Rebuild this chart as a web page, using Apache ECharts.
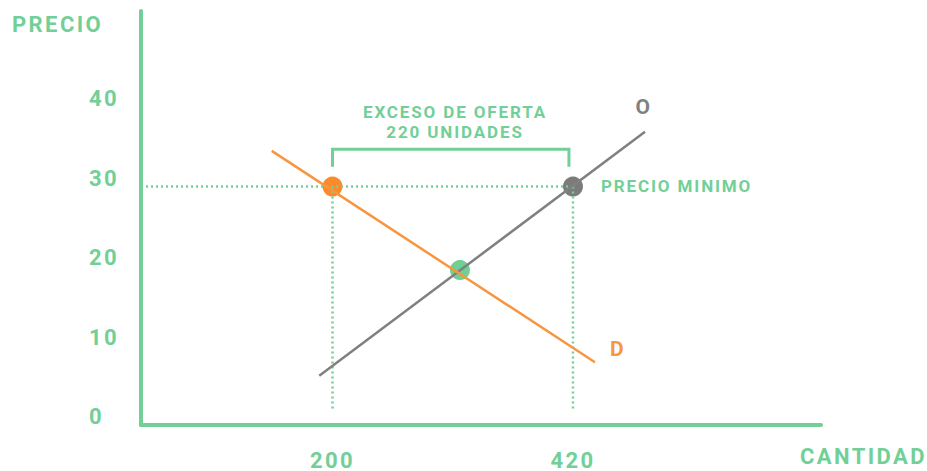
<!DOCTYPE html>
<html>
<head>
<meta charset="utf-8">
<script src="https://cdn.jsdelivr.net/npm/echarts@6/dist/echarts.min.js"></script>
<style>
  html, body { margin: 0; padding: 0; background: #fff; }
  #chart { width: 927px; height: 471px; }
  /* spaced capitals like the original artwork */
  #chart text { letter-spacing: 0.11em; }
</style>
</head>
<body>
<div id="chart"></div>
<script>
// data
const yTicks = [0, 10, 20, 30, 40]
const xTicks = [200, 420]
const supplyLine = [[187.9, 6.2], [485.9, 36.9]]   // O
const demandLine = [[144.4, 34.5], [440.1, 7.9]]   // D
const priceFloor = 30
const qtyDemanded = 200
const qtySupplied = 420
const equilibrium = [316.6, 19.5]
const dottedStartX = 29.4
const dottedEndY = 1.8
const bracketLow = 32.5
const bracketHigh = 34.7
const bracketRight = 416.3

const GREEN = '#72cf97'
const ORANGE = '#f7963f'
const GRAY = '#808080'
const FONT = 'Roboto'

const dotted = { color: GREEN, width: 2.5, type: [2, 3] }

const chart = echarts.init(document.getElementById('chart'), null, { renderer: 'svg' })

chart.setOption({
  animation: false,
  grid: {
    left: 141,
    right: 106,
    top: 11,
    bottom: 46,
    outerBoundsMode: 'none'
  },
  xAxis: {
    type: 'value',
    min: 24.8,
    max: 646.9,
    axisLine: { lineStyle: { color: GREEN, width: 4 } },
    axisTick: { show: false },
    splitLine: { show: false },
    axisLabel: {
      customValues: xTicks,
      color: GREEN,
      fontFamily: FONT,
      fontWeight: 'bold',
      fontSize: 22,
      lineHeight: 18,
      margin: 26
    }
  },
  yAxis: {
    type: 'value',
    min: 0,
    max: 52.1,
    axisLine: { show: true, lineStyle: { color: GREEN, width: 4 } },
    axisTick: { show: false },
    splitLine: { show: false },
    axisLabel: {
      customValues: yTicks,
      color: GREEN,
      fontFamily: FONT,
      fontWeight: 'bold',
      fontSize: 22,
      align: 'left',
      verticalAlign: 'bottom',
      lineHeight: 17,
      margin: 52
    }
  },
  series: [
    {
      // precio minimo
      type: 'line',
      data: [[dottedStartX, priceFloor], [qtySupplied, priceFloor]],
      showSymbol: false,
      lineStyle: dotted,
      silent: true
    },
    {
      type: 'line',
      data: [[qtyDemanded, priceFloor], [qtyDemanded, dottedEndY]],
      showSymbol: false,
      lineStyle: dotted,
      silent: true
    },
    {
      type: 'line',
      data: [[qtySupplied, priceFloor], [qtySupplied, dottedEndY]],
      showSymbol: false,
      lineStyle: dotted,
      silent: true
    },
    {
      // llave del exceso de oferta
      type: 'line',
      data: [[qtyDemanded, bracketLow], [qtyDemanded, bracketHigh], [bracketRight, bracketHigh], [bracketRight, bracketLow]],
      showSymbol: false,
      lineStyle: { color: GREEN, width: 3, join: 'miter' },
      silent: true
    },
    {
      name: 'O',
      type: 'line',
      data: supplyLine,
      showSymbol: false,
      lineStyle: { color: GRAY, width: 2.5 }
    },
    {
      name: 'D',
      type: 'line',
      data: demandLine,
      showSymbol: false,
      lineStyle: { color: ORANGE, width: 2.5 }
    },
    {
      type: 'scatter',
      symbolSize: 20,
      itemStyle: { opacity: 1 },
      data: [
        { value: [qtyDemanded, priceFloor], itemStyle: { color: '#fb8a2b', opacity: 1 } },
        { value: [qtySupplied, priceFloor], itemStyle: { color: '#7b7b7b', opacity: 1 } },
        { value: equilibrium, itemStyle: { color: '#6fcf95', opacity: 1 } }
      ]
    }
  ],
  graphic: [
    { type: 'text', left: 12, top: 13, style: { text: 'PRECIO', fill: GREEN, font: 'bold 22px Roboto' } },
    { type: 'text', left: 800, top: 445, style: { text: 'CANTIDAD', fill: GREEN, font: 'bold 22px Roboto' } },
    { type: 'text', x: 455, y: 112, style: { text: 'EXCESO DE OFERTA', fill: GREEN, font: 'bold 17px Roboto', align: 'center', verticalAlign: 'middle' } },
    { type: 'text', x: 455, y: 132, style: { text: '220 UNIDADES', fill: GREEN, font: 'bold 17px Roboto', align: 'center', verticalAlign: 'middle' } },
    { type: 'text', x: 601, y: 186, style: { text: 'PRECIO MINIMO', fill: GREEN, font: 'bold 17px Roboto', align: 'left', verticalAlign: 'middle' } },
    { type: 'text', x: 644, y: 107, style: { text: 'O', fill: GRAY, font: 'bold 21px Roboto', align: 'center', verticalAlign: 'middle' } },
    { type: 'text', x: 618, y: 349, style: { text: 'D', fill: ORANGE, font: 'bold 21px Roboto', align: 'center', verticalAlign: 'middle' } }
  ]
})
</script>
</body>
</html>
